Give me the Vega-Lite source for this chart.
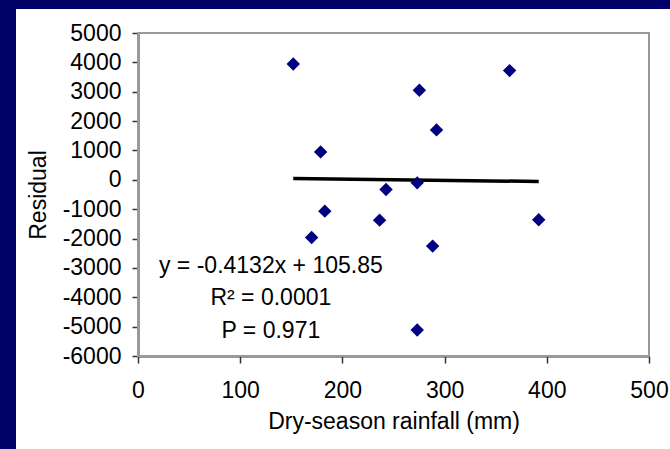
{
  "$schema": "https://vega.github.io/schema/vega-lite/v6.json",
  "width": 654,
  "height": 440,
  "autosize": {"type": "none"},
  "padding": {"left": 16, "top": 9, "right": 0, "bottom": 0},
  "background": "#000066",
  "config": {
    "view": {"fill": "white", "stroke": null},
    "font": "Liberation Sans",
    "axis": {
      "grid": false,
      "labelFont": "Liberation Sans",
      "titleFont": "Liberation Sans",
      "labelFontSize": 23,
      "titleFontSize": 23,
      "titleFontWeight": "normal",
      "labelColor": "black",
      "titleColor": "black",
      "domainColor": "#333333",
      "domainWidth": 2,
      "tickColor": "#333333",
      "tickWidth": 1.5,
      "labelOverlap": false,
      "labelBound": false,
      "zindex": 1
    }
  },
  "datasets": {
    "points": [
      {"rainfall": 151.9, "residual": 3945},
      {"rainfall": 178.7, "residual": 951},
      {"rainfall": 182.8, "residual": -1067},
      {"rainfall": 169.9, "residual": -1963},
      {"rainfall": 236.4, "residual": -1373},
      {"rainfall": 242.7, "residual": -330},
      {"rainfall": 273.2, "residual": -103},
      {"rainfall": 275.3, "residual": 3049},
      {"rainfall": 292.1, "residual": 1700},
      {"rainfall": 288.3, "residual": -2258},
      {"rainfall": 273.2, "residual": -5116},
      {"rainfall": 363.6, "residual": 3719},
      {"rainfall": 392.1, "residual": -1362}
    ],
    "fit": [
      {"rainfall": 151.9, "residual": 43.1},
      {"rainfall": 392.1, "residual": -56.2}
    ]
  },
  "layer": [
    {
      "data": {"values": [{}]},
      "mark": {"type": "rect", "fill": "transparent", "stroke": "#999999", "strokeWidth": 2},
      "encoding": {
        "x": {"datum": 0, "type": "quantitative", "title": "Dry-season rainfall (mm)",
              "scale": {"domain": [0, 500], "range": [122, 633], "nice": false, "zero": false},
              "axis": {"values": [0, 100, 200, 300, 400, 500], "offset": -93, "tickSize": 7,
                       "labelPadding": 16, "titlePadding": 8, "labelFlush": false,
                       "labelExpr": "datum.value < 0 ? '-' + abs(datum.value) : '' + datum.value"}},
        "x2": {"datum": 500},
        "y": {"datum": -6000, "type": "quantitative", "title": "Residual",
              "scale": {"domain": [-6000, 5000], "range": [347, 24], "nice": false, "zero": false},
              "axis": {"values": [-6000, -5000, -4000, -3000, -2000, -1000, 0, 1000, 2000, 3000, 4000, 5000],
                       "offset": -122, "tickSize": 6, "labelPadding": 11, "titlePadding": 12,
                       "labelExpr": "datum.value < 0 ? '-' + abs(datum.value) : '' + datum.value"}},
        "y2": {"datum": 5000}
      }
    },
    {
      "data": {"name": "fit"},
      "mark": {"type": "line", "color": "black", "strokeWidth": 3.5},
      "encoding": {
        "x": {"field": "rainfall", "type": "quantitative", "title": "Dry-season rainfall (mm)",
              "axis": {"values": [0, 100, 200, 300, 400, 500], "offset": -93, "tickSize": 7,
                       "labelPadding": 16, "titlePadding": 8, "labelFlush": false,
                       "labelExpr": "datum.value < 0 ? '-' + abs(datum.value) : '' + datum.value"}},
        "y": {"field": "residual", "type": "quantitative", "title": "Residual",
              "axis": {"values": [-6000, -5000, -4000, -3000, -2000, -1000, 0, 1000, 2000, 3000, 4000, 5000],
                       "offset": -122, "tickSize": 6, "labelPadding": 11, "titlePadding": 12,
                       "labelExpr": "datum.value < 0 ? '-' + abs(datum.value) : '' + datum.value"}}
      }
    },
    {
      "data": {"name": "points"},
      "mark": {"type": "point", "shape": "diamond", "filled": true, "color": "#000080", "size": 180, "opacity": 1},
      "encoding": {
        "x": {"field": "rainfall", "type": "quantitative", "title": "Dry-season rainfall (mm)",
              "axis": {"values": [0, 100, 200, 300, 400, 500], "offset": -93, "tickSize": 7,
                       "labelPadding": 16, "titlePadding": 8, "labelFlush": false,
                       "labelExpr": "datum.value < 0 ? '-' + abs(datum.value) : '' + datum.value"}},
        "y": {"field": "residual", "type": "quantitative", "title": "Residual",
              "axis": {"values": [-6000, -5000, -4000, -3000, -2000, -1000, 0, 1000, 2000, 3000, 4000, 5000],
                       "offset": -122, "tickSize": 6, "labelPadding": 11, "titlePadding": 12,
                       "labelExpr": "datum.value < 0 ? '-' + abs(datum.value) : '' + datum.value"}}
      }
    },
    {
      "data": {"values": [{}]},
      "mark": {"type": "text", "text": "y = -0.4132x + 105.85", "align": "center", "baseline": "alphabetic", "fontSize": 23, "color": "black"},
      "encoding": {
        "x": {"datum": 130, "type": "quantitative", "title": "Dry-season rainfall (mm)",
              "axis": {"values": [0, 100, 200, 300, 400, 500], "offset": -93, "tickSize": 7,
                       "labelPadding": 16, "titlePadding": 8, "labelFlush": false,
                       "labelExpr": "datum.value < 0 ? '-' + abs(datum.value) : '' + datum.value"}},
        "y": {"datum": -3180, "type": "quantitative", "title": "Residual",
              "axis": {"values": [-6000, -5000, -4000, -3000, -2000, -1000, 0, 1000, 2000, 3000, 4000, 5000],
                       "offset": -122, "tickSize": 6, "labelPadding": 11, "titlePadding": 12,
                       "labelExpr": "datum.value < 0 ? '-' + abs(datum.value) : '' + datum.value"}}
      }
    },
    {
      "data": {"values": [{}]},
      "mark": {"type": "text", "text": "R² = 0.0001", "align": "center", "baseline": "alphabetic", "fontSize": 23, "color": "black"},
      "encoding": {
        "x": {"datum": 130, "type": "quantitative", "title": "Dry-season rainfall (mm)",
              "axis": {"values": [0, 100, 200, 300, 400, 500], "offset": -93, "tickSize": 7,
                       "labelPadding": 16, "titlePadding": 8, "labelFlush": false,
                       "labelExpr": "datum.value < 0 ? '-' + abs(datum.value) : '' + datum.value"}},
        "y": {"datum": -4270, "type": "quantitative", "title": "Residual",
              "axis": {"values": [-6000, -5000, -4000, -3000, -2000, -1000, 0, 1000, 2000, 3000, 4000, 5000],
                       "offset": -122, "tickSize": 6, "labelPadding": 11, "titlePadding": 12,
                       "labelExpr": "datum.value < 0 ? '-' + abs(datum.value) : '' + datum.value"}}
      }
    },
    {
      "data": {"values": [{}]},
      "mark": {"type": "text", "text": "P = 0.971", "align": "center", "baseline": "alphabetic", "fontSize": 23, "color": "black"},
      "encoding": {
        "x": {"datum": 130, "type": "quantitative", "title": "Dry-season rainfall (mm)",
              "axis": {"values": [0, 100, 200, 300, 400, 500], "offset": -93, "tickSize": 7,
                       "labelPadding": 16, "titlePadding": 8, "labelFlush": false,
                       "labelExpr": "datum.value < 0 ? '-' + abs(datum.value) : '' + datum.value"}},
        "y": {"datum": -5395, "type": "quantitative", "title": "Residual",
              "axis": {"values": [-6000, -5000, -4000, -3000, -2000, -1000, 0, 1000, 2000, 3000, 4000, 5000],
                       "offset": -122, "tickSize": 6, "labelPadding": 11, "titlePadding": 12,
                       "labelExpr": "datum.value < 0 ? '-' + abs(datum.value) : '' + datum.value"}}
      }
    }
  ]
}
